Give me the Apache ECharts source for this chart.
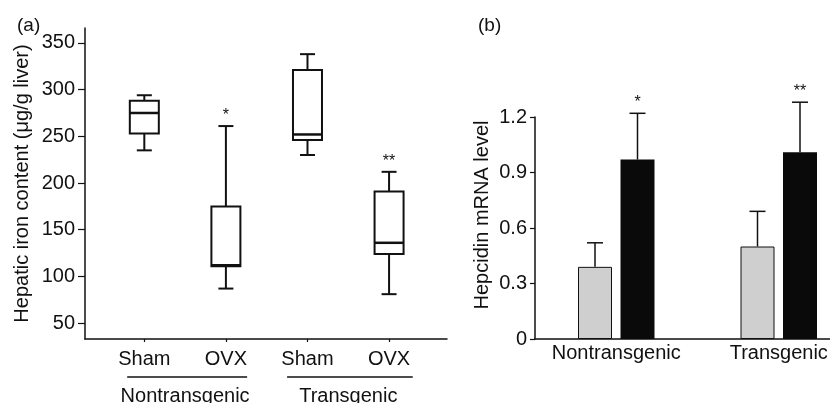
<!DOCTYPE html>
<html><head><meta charset="utf-8">
<script src="https://cdn.jsdelivr.net/npm/echarts@6/dist/echarts.min.js"></script>
<style>html,body{margin:0;padding:0;background:#fff}#c{width:830px;height:403px}</style>
</head><body><div id="c"></div>
<script>
// ---- Panel (a): hepatic iron content, box plots ----
const groupsA = ['Nontransgenic', 'Transgenic'];
const groupCentersA = [1.5, 3.5];
const groupSpansA = [[0.79, 2.26], [2.75, 4.29]];
const treatmentsA = ['Sham', 'OVX', 'Sham', 'OVX'];
const positionsA = [1, 2, 3, 4];
const boxMin = [235, 87, 230, 81];
const boxQ1 = [253, 111, 246, 124];
const boxMedian = [275, 112, 252, 136];
const boxQ3 = [288, 175, 321, 191];
const boxMax = [294, 261, 338, 212];
const starsA = ['', '*', '', '**'];
const yTicksA = [50, 100, 150, 200, 250, 300, 350];

// ---- Panel (b): hepcidin mRNA level, bars ----
const categoriesB = ['Nontransgenic', 'Transgenic'];
const shamMean = [0.39, 0.50];
const shamUpper = [0.52, 0.69];
const ovxMean = [0.97, 1.01];
const ovxUpper = [1.22, 1.28];
const starsSham = ['', ''];
const starsOvx = ['*', '**'];

const FONT = 'Liberation Sans, Arial, Helvetica, sans-serif';
const FS = 20;
const INK = '#111';
const BAR_W = 34;
const BAR_GAP = 0.25;
const BAR_OFF = (BAR_W + BAR_W * BAR_GAP) / 2;

const chart = echarts.init(document.getElementById('c'), null, {renderer: 'canvas'});

const boxData = positionsA.map((p, i) => [p, boxMin[i], boxQ1[i], boxMedian[i], boxQ3[i], boxMax[i], starsA[i]]);

function renderBox(params, api) {
  const x = api.value(0);
  const pMin = api.coord([x, api.value(1)]);
  const pQ1 = api.coord([x, api.value(2)]);
  const pMed = api.coord([x, api.value(3)]);
  const pQ3 = api.coord([x, api.value(4)]);
  const pMax = api.coord([x, api.value(5)]);
  const star = boxData[params.dataIndex][6];
  const cx = pMin[0];
  const bw = 29, cw = 15;
  const ls = {stroke: INK, lineWidth: 2};
  const children = [
    {type: 'line', shape: {x1: cx, y1: pMin[1], x2: cx, y2: pQ1[1]}, style: ls},
    {type: 'line', shape: {x1: cx, y1: pQ3[1], x2: cx, y2: pMax[1]}, style: ls},
    {type: 'line', shape: {x1: cx - cw / 2, y1: pMin[1], x2: cx + cw / 2, y2: pMin[1]}, style: ls},
    {type: 'line', shape: {x1: cx - cw / 2, y1: pMax[1], x2: cx + cw / 2, y2: pMax[1]}, style: ls},
    {type: 'rect', shape: {x: cx - bw / 2, y: pQ3[1], width: bw, height: pQ1[1] - pQ3[1]}, style: {fill: '#fff', stroke: INK, lineWidth: 2}},
    {type: 'line', shape: {x1: cx - bw / 2, y1: pMed[1], x2: cx + bw / 2, y2: pMed[1]}, style: {stroke: INK, lineWidth: 2.5}}
  ];
  if (star) {
    children.push({type: 'text', style: {text: star, x: cx, y: pMax[1] - 10, align: 'center', verticalAlign: 'middle', fill: INK, font: '16px ' + FONT}});
  }
  return {type: 'group', children};
}

function makeErr(means, uppers, stars, sign) {
  const data = means.map((m, i) => [i, m, uppers[i], stars[i]]);
  return {
    type: 'custom', xAxisIndex: 2, yAxisIndex: 1, z: 1,
    encode: {x: 0, y: [1, 2]},
    data,
    renderItem(params, api) {
      const i = api.value(0);
      const b = api.coord([i, api.value(1)]);
      const t = api.coord([i, api.value(2)]);
      const cx = b[0] + sign * BAR_OFF;
      const cw = 16;
      const st = data[params.dataIndex][3];
      const children = [
        {type: 'line', shape: {x1: cx, y1: b[1], x2: cx, y2: t[1]}, style: {stroke: INK, lineWidth: 1.5}},
        {type: 'line', shape: {x1: cx - cw / 2, y1: t[1], x2: cx + cw / 2, y2: t[1]}, style: {stroke: INK, lineWidth: 1.5}}
      ];
      if (st) children.push({type: 'text', style: {text: st, x: cx, y: t[1] - 11, align: 'center', verticalAlign: 'middle', fill: INK, font: '16px ' + FONT}});
      return {type: 'group', children};
    }
  };
}

const axisText = {color: INK, fontFamily: FONT, fontSize: FS};

const option = {
  animation: false,
  backgroundColor: '#fff',
  title: [
    {text: '(a)', left: 12, top: 11, textStyle: {color: INK, fontFamily: FONT, fontSize: 19, fontWeight: 'normal'}},
    {text: '(b)', left: 473, top: 11, textStyle: {color: INK, fontFamily: FONT, fontSize: 19, fontWeight: 'normal'}}
  ],
  grid: [
    {left: 85, top: 28, right: 383, bottom: 64, outerBoundsMode: 'none', containLabel: false},
    {left: 535, top: 117, right: -30, bottom: 64, outerBoundsMode: 'none', containLabel: false}
  ],
  xAxis: [
    {type: 'value', gridIndex: 0, min: 0.273, max: 4.71,
      axisLine: {show: true, onZero: false, lineStyle: {color: INK, width: 1.5}},
      axisTick: {show: true, customValues: positionsA, length: 3, lineStyle: {color: INK, width: 1.2}},
      axisLabel: {customValues: positionsA, formatter: v => treatmentsA[positionsA.indexOf(v)] || '', margin: 10, ...axisText},
      splitLine: {show: false}},
    {type: 'value', gridIndex: 0, min: 0.273, max: 4.71, position: 'bottom', offset: 47,
      axisLine: {show: false}, axisTick: {show: false},
      axisLabel: {customValues: groupCentersA, formatter: v => groupsA[groupCentersA.indexOf(v)] || '', margin: 0, ...axisText},
      splitLine: {show: false}},
    {type: 'category', gridIndex: 1, data: categoriesB,
      axisLine: {show: true, lineStyle: {color: INK, width: 1.5}},
      axisTick: {show: false},
      axisLabel: {margin: 4, interval: 0, hideOverlap: false, ...axisText}}
  ],
  yAxis: [
    {type: 'value', gridIndex: 0, min: 33, max: 366,
      name: 'Hepatic iron content (μg/g liver)', nameLocation: 'middle', nameGap: 53,
      nameTextStyle: {...axisText},
      axisLine: {show: true, lineStyle: {color: INK, width: 1.5}},
      axisTick: {show: true, customValues: yTicksA, length: 7, lineStyle: {color: INK, width: 1.2}},
      axisLabel: {customValues: yTicksA, margin: 10, ...axisText},
      splitLine: {show: false}},
    {type: 'value', gridIndex: 1, min: 0, max: 1.2, interval: 0.3,
      name: 'Hepcidin mRNA level', nameLocation: 'middle', nameGap: 43,
      nameTextStyle: {...axisText, padding: [0, 0, 0, 26]},
      axisLine: {show: true, lineStyle: {color: INK, width: 1.5}},
      axisTick: {show: true, length: 5, lineStyle: {color: INK, width: 1.2}},
      axisLabel: {margin: 8, formatter: v => v === 0 ? '0' : v.toFixed(1), ...axisText},
      splitLine: {show: false}}
  ],
  series: [
    {type: 'custom', xAxisIndex: 0, yAxisIndex: 0, encode: {x: 0, y: [1, 2, 3, 4, 5]}, data: boxData, renderItem: renderBox},
    {type: 'bar', name: 'Sham', xAxisIndex: 2, yAxisIndex: 1, data: shamMean, barWidth: BAR_W, barGap: (BAR_GAP * 100) + '%',
      itemStyle: {color: '#cfcfcf', borderColor: INK, borderWidth: 1}, z: 2},
    {type: 'bar', name: 'OVX', xAxisIndex: 2, yAxisIndex: 1, data: ovxMean, barWidth: BAR_W, barGap: (BAR_GAP * 100) + '%',
      itemStyle: {color: '#0a0a0a', borderColor: '#0a0a0a', borderWidth: 0}, z: 2},
    makeErr(shamMean, shamUpper, starsSham, -1),
    makeErr(ovxMean, ovxUpper, starsOvx, 1)
  ]
};

chart.setOption(option);

// group underlines under the treatment labels of panel (a)
const axisY = chart.convertToPixel({yAxisIndex: 0}, 33);
const lines = groupSpansA.map(s => {
  const x1 = chart.convertToPixel({xAxisIndex: 0}, s[0]);
  const x2 = chart.convertToPixel({xAxisIndex: 0}, s[1]);
  return {type: 'line', shape: {x1, y1: axisY + 38, x2, y2: axisY + 38}, style: {stroke: INK, lineWidth: 1.5}};
});
chart.setOption({graphic: lines});
</script></body></html>
